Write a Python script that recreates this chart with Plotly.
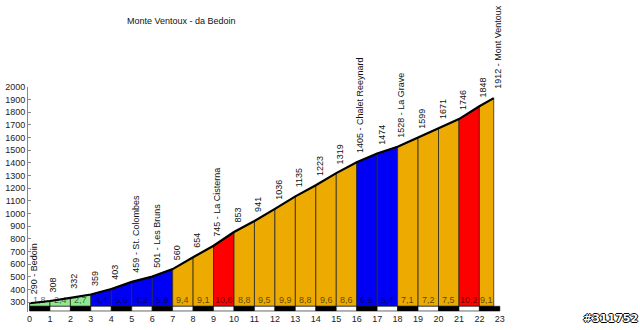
import plotly.graph_objects as go

# ---- data ----
km = [0, 1, 2, 3, 4, 5, 6, 7, 8, 9, 10, 11, 12, 13, 14, 15, 16, 17, 18, 19, 20, 21, 22, 22.7]
elev = [290, 308, 332, 359, 403, 459, 501, 560, 654, 745, 853, 941, 1036, 1135, 1223,
        1319, 1405, 1474, 1528, 1599, 1671, 1746, 1848, 1912]
point_labels = ["290 - Bedoin", "308", "332", "359", "403", "459 - St. Colombes",
                "501 - Les Bruns", "560", "654", "745 - La Cisterna", "853", "941",
                "1036", "1135", "1223", "1319", "1405 - Chalet Reeynard", "1474",
                "1528 - La Grave", "1599", "1671", "1746", "1848", "1912 - Mont Ventoux"]
gradients = [1.8, 2.4, 2.7, 4.4, 5.6, 4.2, 5.9, 9.4, 9.1, 10.8, 8.8, 9.5, 9.9, 8.8,
             9.6, 8.6, 6.9, 5.4, 7.1, 7.2, 7.5, 10.2, 9.1]
x_ticks = list(range(0, 24))
y_ticks = list(range(300, 2001, 100))
title = "Monte Ventoux - da Bedoin"
watermark = "#311752"

# ---- style ----
FONT = "Liberation Sans, Arial, sans-serif"
BASE = 266
STRIP_BOTTOM = 229


def seg_color(g):
    if g < 3:
        return "#8fe98f"
    if g < 7:
        return "#0000f4"
    if g < 10:
        return "#edaa00"
    return "#fe0000"


fig = go.Figure()

# colored segments
for i, g in enumerate(gradients):
    x0, x1 = km[i], km[i + 1]
    e0, e1 = elev[i], elev[i + 1]
    fig.add_trace(go.Scatter(
        x=[x0, x0, x1, x1, x0], y=[BASE, e0, e1, BASE, BASE],
        mode="lines", fill="toself", fillcolor=seg_color(g),
        line=dict(color="#2a2a2a", width=0.8), hoverinfo="skip", showlegend=False))

# km strip
for k in range(len(x_ticks) - 1):
    x0, x1 = x_ticks[k], x_ticks[k + 1]
    fig.add_trace(go.Scatter(
        x=[x0, x0, x1, x1, x0], y=[STRIP_BOTTOM, BASE, BASE, STRIP_BOTTOM, STRIP_BOTTOM],
        mode="lines", fill="toself", fillcolor="#000000" if k % 2 == 0 else "#ffffff",
        line=dict(color="#000000", width=0.6), hoverinfo="skip", showlegend=False))

# profile line
fig.add_trace(go.Scatter(x=km, y=elev, mode="lines",
                         line=dict(color="#000000", width=2.2),
                         hoverinfo="skip", showlegend=False))

# gradient labels
for i, g in enumerate(gradients):
    fig.add_annotation(x=(km[i] + km[i + 1]) / 2, y=312, text=f"{g:.1f}".replace(".", ","),
                       showarrow=False, xanchor="center", yanchor="middle",
                       font=dict(family=FONT, size=9, color="rgba(0,0,0,0.62)"))

# point labels
for x, e, t in zip(km, elev, point_labels):
    fig.add_annotation(x=x, y=e, text=t, textangle=-90, showarrow=False,
                       xanchor="center", yanchor="bottom", xshift=4, yshift=7,
                       font=dict(family=FONT, size=9, color="#111111"))

L, R, T, B = 28, 100, 87, 18
W, H = 640, 330
pw = W - L - R
ph = H - T - B
pxkm = 20.45
xmin = (L - 29.5) / pxkm
xmax = xmin + pw / pxkm
ppm = 215 / 1700
ymax = 2000
ymin = 2000 - ph / ppm

fig.add_annotation(xref="paper", yref="paper", x=(125 - L) / pw, y=(H - B - 21) / ph,
                   text=title, showarrow=False, xanchor="left", yanchor="middle",
                   font=dict(family=FONT, size=9, color="#111111"))
fig.add_annotation(xref="paper", yref="paper", x=(610 - L) / pw, y=(H - B - 318) / ph,
                   text="<b>" + watermark + "</b>", showarrow=False, xanchor="center",
                   yanchor="middle",
                   font=dict(family="DejaVu Sans, sans-serif", size=11, color="#ffffff",
                             shadow="1px 0 0 #000, -1px 0 0 #000, 0 1px 0 #000, 0 -1px 0 #000"))

fig.update_layout(
    width=W, height=H, margin=dict(l=L, r=R, t=T, b=B, pad=0),
    paper_bgcolor="white", plot_bgcolor="white",
    xaxis=dict(range=[xmin, xmax], tickvals=x_ticks, ticktext=[str(v) for v in x_ticks],
               showgrid=False, zeroline=False, showline=False, ticks="", automargin=False,
               tickfont=dict(family=FONT, size=9, color="#222222")),
    yaxis=dict(range=[ymin, ymax], tickvals=y_ticks, ticktext=[str(v) for v in y_ticks],
               showgrid=False, zeroline=False, showline=True, linecolor="#888888",
               linewidth=1, ticks="inside", ticklen=3, tickcolor="#888888", automargin=False,
               tickfont=dict(family=FONT, size=9, color="#222222")),
)

fig.write_html("out.html")
